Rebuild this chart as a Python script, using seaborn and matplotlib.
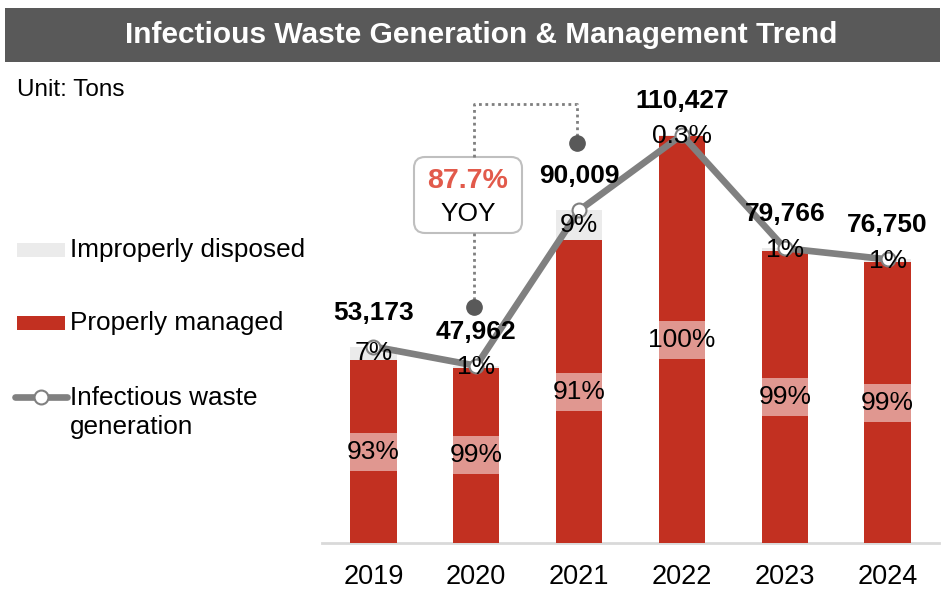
import numpy as np
import pandas as pd
import matplotlib
matplotlib.use("Agg")
import matplotlib.pyplot as plt
import seaborn as sns
from matplotlib.patches import Rectangle, FancyBboxPatch
from matplotlib.lines import Line2D

# ---- data ----
years = ["2019", "2020", "2021", "2022", "2023", "2024"]
generation = [53173, 47962, 90009, 110427, 79766, 76750]
improper_pct = [7, 1, 9, 0.3, 1, 1]
improper_labels = ["7%", "1%", "9%", "0.3%", "1%", "1%"]
proper_labels = ["93%", "99%", "91%", "100%", "99%", "99%"]
yoy_value = "87.7%"
yoy_text = "YOY"
title = "Infectious Waste Generation & Management Trend"
unit_text = "Unit: Tons"
legend_labels = ["Improperly disposed", "Properly managed", "Infectious waste\ngeneration"]

RED = "#C23021"
LIGHT = "#EBEBEB"
LINE = "#808080"

sns.set_style("white")
plt.rcParams["font.family"] = ["Liberation Sans", "DejaVu Sans"]
plt.rcParams["text.color"] = "black"
plt.rcParams["xtick.color"] = "black"

proper = [g * (1 - p / 100.0) for g, p in zip(generation, improper_pct)]
df = pd.DataFrame({"year": years, "total": generation, "proper": proper})

fig = plt.figure(figsize=(9.45, 5.89), dpi=100)
ax = fig.add_axes([322 / 945, 46 / 589, 617 / 945, (543 - 70) / 589])

sns.barplot(data=df, x="year", y="total", color=LIGHT, saturation=1, width=0.45,
            ax=ax, edgecolor="none", zorder=2)
sns.barplot(data=df, x="year", y="proper", color=RED, saturation=1, width=0.45,
            ax=ax, edgecolor="none", zorder=3)
sns.lineplot(x=list(range(len(years))), y=generation, ax=ax, color=LINE, lw=4.8,
             marker="o", markersize=10, markerfacecolor="white",
             markeredgecolor=LINE, markeredgewidth=1.5, zorder=6)

ax.set_ylim(0, 128000)
ax.set_xlim(-0.5, len(years) - 0.5)
ax.set_xticks(range(len(years)))
ax.set_xticklabels(years, fontsize=19.5, color="black")
ax.set_yticks([])
ax.set_xlabel("")
ax.set_ylabel("")
ax.tick_params(axis="x", length=0, pad=15)
for s in ["top", "right", "left"]:
    ax.spines[s].set_visible(False)
ax.spines["bottom"].set_color("#D9D9D9")
ax.spines["bottom"].set_linewidth(2)

px = 408 / 110427.0  # pixels per ton
box_h = 38 / px
for i, (g, p) in enumerate(zip(generation, proper)):
    yc = p / 2
    ax.add_patch(Rectangle((i - 0.225, yc - box_h / 2), 0.45, box_h,
                           facecolor="white", alpha=0.5, edgecolor="none", zorder=4))
    ax.text(i, yc, proper_labels[i], ha="center", va="center", fontsize=19, zorder=7)
    ax.text(i, (g + p) / 2, improper_labels[i], ha="center", va="center",
            fontsize=19, zorder=7)
    ax.annotate(f"{g:,}", (i, g), xytext=(0, 34), textcoords="offset pixels",
                ha="center", va="center", fontsize=19, fontweight="bold", zorder=8)

# ---- overlay (pixel coordinates) ----
ov = fig.add_axes([0, 0, 1, 1])
ov.set_xlim(0, 945)
ov.set_ylim(589, 0)
ov.axis("off")

ov.add_patch(Rectangle((5, 8), 935, 54, facecolor="#595959", edgecolor="none"))
ov.text(481, 35, title, color="white", fontsize=21.5, fontweight="bold",
        ha="center", va="center")
ov.text(17, 90, unit_text, fontsize=17.5, ha="left", va="center")

# legend
ov.add_patch(Rectangle((17, 243), 48, 14, facecolor=LIGHT, edgecolor="none"))
ov.text(70, 250, legend_labels[0], fontsize=18.8, ha="left", va="center")
ov.add_patch(Rectangle((17, 316), 48, 14, facecolor=RED, edgecolor="none"))
ov.text(70, 323, legend_labels[1], fontsize=18.8, ha="left", va="center")
ov.add_line(Line2D([15, 67], [397, 397], color=LINE, lw=4.8))
ov.add_line(Line2D([41], [397], marker="o", markersize=10, markerfacecolor="white",
                   markeredgecolor=LINE, markeredgewidth=1.5, color=LINE))
ov.text(70, 386, legend_labels[2], fontsize=18.8, ha="left", va="top", linespacing=1.28)

# YOY bracket
dot_style = dict(color="#7F7F7F", lw=2, linestyle=(0, (1, 1.3)))
ov.add_line(Line2D([474, 474, 577, 577], [157, 104, 104, 143], **dot_style))
ov.add_line(Line2D([474, 474], [233, 307], **dot_style))
ov.add_line(Line2D([474, 577], [307, 143], marker="o", markersize=11, linestyle="none",
                   color="#595959"))
ov.add_patch(FancyBboxPatch((414, 157), 108, 76,
                            boxstyle="round,pad=0,rounding_size=11",
                            facecolor="white", edgecolor="#BFBFBF", lw=1.5))
ov.text(468, 181, yoy_value, color="#E25A4B", fontsize=20.5, fontweight="bold",
        ha="center", va="center")
ov.text(468, 214, yoy_text, color="black", fontsize=19, ha="center", va="center")

fig.savefig("out.png", dpi=100)
